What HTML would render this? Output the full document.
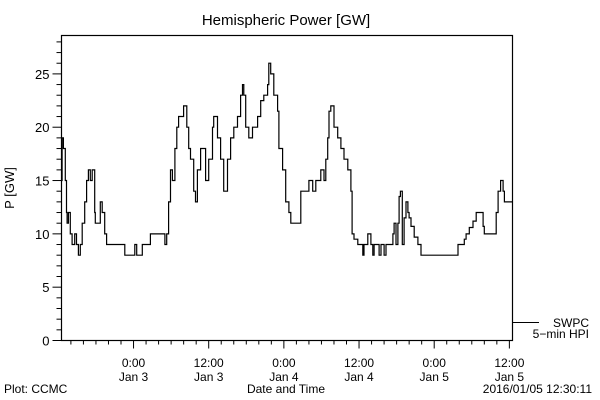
<!DOCTYPE html>
<html><head><meta charset="utf-8"><style>
body{margin:0;background:#fff}
svg{display:block;font-family:"Liberation Sans",sans-serif}
</style></head><body>
<svg id="chart" width="600" height="400" viewBox="0 0 600 400">
<rect width="600" height="400" fill="#fff"/>
<text x="286" y="25" text-anchor="middle" font-size="15">Hemispheric Power [GW]</text>
<g id="axes"></g>
<path id="series" fill="none" stroke="#000" stroke-width="1.2"/>
<rect x="61.5" y="35.5" width="451" height="305" fill="none" stroke="#000" stroke-width="1.2"/>
<text x="14" y="188" text-anchor="middle" font-size="13" transform="rotate(-90 14 188)">P [GW]</text>
<text x="286" y="393" text-anchor="middle" font-size="12">Date and Time</text>
<text x="4" y="393" font-size="12">Plot: CCMC</text>
<text x="592" y="393" text-anchor="end" font-size="12">2016/01/05 12:30:11</text>
<line x1="513" y1="322.5" x2="539" y2="322.5" stroke="#000"/>
<text x="589" y="327" text-anchor="end" font-size="12">SWPC</text>
<text x="589" y="338" text-anchor="end" font-size="12">5−min HPI</text>
</svg>
<script>
const times=[-11.5,-11.4,-11.2,-10.9,-10.7,-10.6,-10.4,-10.1,-9.8,-9.4,-9.1,-8.8,-8.5,-8.2,-7.8,-7.5,-7.2,-6.9,-6.6,-6.2,-6.1,-5.6,-5.3,-5.0,-4.6,-4.3,-1.4,0.2,0.5,1.4,2.7,5.0,5.3,5.6,5.9,6.2,6.6,6.9,7.2,8.0,8.5,8.8,9.1,9.6,9.9,10.2,10.7,11.2,11.5,12.0,12.6,12.8,13.4,13.9,14.4,15.0,15.5,16.0,16.6,17.1,17.4,17.6,17.9,18.4,19.0,19.8,20.3,20.8,21.4,21.6,21.9,22.4,23.0,23.2,23.8,24.3,24.8,25.1,26.7,28.0,28.6,29.1,29.9,30.4,30.7,31.0,31.2,31.5,32.0,32.6,33.1,33.6,34.2,34.7,34.9,35.2,35.8,36.6,36.8,37.4,37.9,38.2,38.4,39.2,39.5,40.0,40.3,41.4,41.6,41.9,42.2,42.4,42.6,42.9,43.2,43.5,43.8,44.0,44.3,44.8,45.4,45.9,51.8,52.8,53.1,53.6,54.2,54.7,55.8,56.0,57.9,58.2,58.6,59.0,59.2,60.5];
const power=[15,19,18,15,12,11,12,10,9,10,9,8,9,11,13,15,16,15,16,12,11,11,13,12,10,9,8,9,8,9,10,9,10,13,16,15,18,20,21,22,20,18,17,14,13,16,18,18,15,17,20,21,19,17,14,17,19,20,21,23,24,23,20,19,20,21,22.5,23,24,26,25,23,21.5,18,16,13,12,11,14,15,14,15,16,15,17,19,21.5,22,20,19,18,17,16,14,10,9.5,9,8,9,10,9,8,9,8,9,8,9,10,11,9,11,13.5,14,9,11.5,13,12,11.5,10.7,9.7,9,8,9,9.5,10,10.6,11.2,12,10.7,10,12,14,15,14,13,13];
const yTicks=[0,5,10,15,20,25];
const xMajor=[0,12,24,36,48,60];
const xTime=["0:00","12:00","0:00","12:00","0:00","12:00"];
const xDay=["Jan 3","Jan 3","Jan 4","Jan 4","Jan 5","Jan 5"];
const X0=61.5,X1=512.5,Y0=340.5,Y1=35.5,TMIN=-11.5,TMAX=60.5,VMAX=28.6;
const xs=t=>X0+(t-TMIN)/(TMAX-TMIN)*(X1-X0);
const ys=v=>Y0-v/VMAX*(Y0-Y1);
const NS="http://www.w3.org/2000/svg";
const axes=document.getElementById('axes');
function mk(tag,a){const e=document.createElementNS(NS,tag);for(const k in a)e.setAttribute(k,a[k]);axes.appendChild(e);return e;}
for(let v=0;v<=28;v++){
  const major=v%5===0;
  const l=mk('line',{x1:X0-(major?9:5),x2:X0,y1:ys(v),y2:ys(v),stroke:'#000'});
  
  
}
yTicks.forEach(v=>{
  const t=mk('text',{x:X0-12,y:ys(v)+5,'text-anchor':'end','font-size':'13'});
  t.textContent=v;
  
  
});
for(let h=-10;h<=60;h+=2){
  const major=h%12===0;
  const l=mk('line',{x1:xs(h),x2:xs(h),y1:Y0,y2:Y0+(major?8:4),stroke:'#000'});
  
  
}
xMajor.forEach((h,i)=>{
  const a=mk('text',{x:xs(h),y:367,'text-anchor':'middle','font-size':'12'});
  a.textContent=xTime[i];
  
  
  const b=mk('text',{x:xs(h),y:381,'text-anchor':'middle','font-size':'12'});
  b.textContent=xDay[i];
  
  
});
let d='M'+xs(times[0]).toFixed(1)+' '+ys(power[0]).toFixed(1);
for(let i=1;i<times.length;i++){
  d+=' H'+xs(times[i]).toFixed(1)+' V'+ys(power[i]).toFixed(1);
}
document.getElementById('series').setAttribute('d',d);
</script>
</body></html>
